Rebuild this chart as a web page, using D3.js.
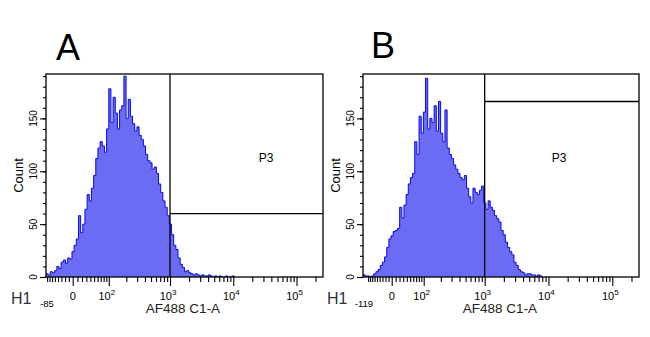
<!DOCTYPE html>
<html><head><meta charset="utf-8">
<script src="https://cdn.jsdelivr.net/npm/d3@7"></script>
<style>body{margin:0;background:#fff}svg{display:block;font-family:"Liberation Sans",Arial,Helvetica,sans-serif}</style>
</head><body><svg id="c" width="650" height="337"></svg>
<script>
// ---------- data ----------
const panelLabels = ["A", "B"];
const axisMins = [-85, -119];
const axisMax = 262144;
const majorTicks = [0, 100, 1000, 10000, 100000];
const majorBase = ["0", "10", "10", "10", "10"];
const majorExp = ["", "2", "3", "4", "5"];
const yMajorTicks = [0, 50, 100, 150];
const yMax = 192;
const gateLow = [1000, 1000];
const gateHeights = [60, 166];
const gateName = "P3";
const xTitle = "AF488 C1-A";
const yTitle = "Count";
const histName = "H1";
const binCount = 128;
// counts per display channel bin (bins evenly spaced across the display)
const countsA = [3,2,5,4,6,10,8,14,16,13,18,17,24,30,36,58,42,50,64,78,72,84,96,112,122,128,124,118,140,178,146,170,155,140,158,162,190,150,168,152,145,138,142,134,130,124,116,110,108,102,104,98,88,80,72,66,58,50,40,30,26,18,12,9,5,6,4,3,2,3,2,1,2,1,1,2,1,0,1,0,1,0,0,1,0,0,1];
const countsB = [2,1,1,0,1,3,5,7,11,14,19,28,36,39,43,44,46,66,56,68,78,88,94,98,128,116,152,136,156,188,140,150,146,162,138,166,136,128,158,122,116,112,106,102,98,94,92,96,84,76,70,84,80,78,82,86,70,64,72,66,63,58,55,52,44,40,33,28,24,21,14,11,7,5,4,2,3,3,2,2,1,2,1];
const allCounts = [countsA, countsB];

// ---------- layout ----------
const panels = [
  {L: 46, R: 323, T: 74, B: 277, b: 58, zf: 0.0964, letterX: 56, letterY: 60, hX: 11, countX: 18, p3X: 266},
  {L: 363, R: 639, T: 74, B: 277, b: 70, zf: 0.104, letterX: 371, letterY: 58, hX: 327, countX: 335, p3X: 559}
];
const svg = d3.select("#c");
const tf = (v, b) => Math.asinh(v / b);

panels.forEach((p, k) => {
  const g = svg.append("g");
  const min = axisMins[k];
  const x = d3.scaleLinear()
    .domain([tf(min, p.b), 0, tf(axisMax, p.b)])
    .range([p.L, p.L + p.zf * (p.R - p.L), p.R]);
  const xb = d3.scaleLinear().domain([0, binCount]).range([p.L, p.R]);
  const y = d3.scaleLinear().domain([0, yMax]).range([p.B, p.T]);

  // clip
  const cid = "clip" + k;
  svg.append("clipPath").attr("id", cid).append("rect")
    .attr("x", p.L).attr("y", p.T).attr("width", p.R - p.L).attr("height", p.B - p.T);

  // histogram
  const data = allCounts[k].concat([0]);
  const area = d3.area().curve(d3.curveStepAfter)
    .x((d, i) => xb(i)).y0(y(0)).y1(d => y(d));
  const line = d3.line().curve(d3.curveStepAfter)
    .x((d, i) => xb(i)).y(d => y(d));
  const hg = g.append("g").attr("clip-path", `url(#${cid})`);
  hg.append("path").datum(data).attr("d", area).attr("fill", "#6b6bf4");
  hg.append("path").datum(data).attr("d", line).attr("fill", "none")
    .attr("stroke", "#0a0ae6").attr("stroke-width", 1);

  // gate
  const gx = x(tf(gateLow[k], p.b));
  g.append("line").attr("x1", gx).attr("x2", gx).attr("y1", p.T).attr("y2", p.B)
    .attr("stroke", "#000").attr("stroke-width", 1.3);
  g.append("line").attr("x1", gx).attr("x2", p.R).attr("y1", y(gateHeights[k])).attr("y2", y(gateHeights[k]))
    .attr("stroke", "#000").attr("stroke-width", 1.3);
  g.append("text").attr("x", p.p3X).attr("y", 162)
    .attr("text-anchor", "middle").attr("font-size", 12).text(gateName);

  // frame
  g.append("rect").attr("x", p.L).attr("y", p.T).attr("width", p.R - p.L).attr("height", p.B - p.T)
    .attr("fill", "none").attr("stroke", "#000").attr("stroke-width", 1.3);

  // x minor ticks
  const minor = [];
  for (let m = 1; m <= 9; m++) { if (-10 * m >= min) minor.push(-10 * m); minor.push(10 * m); }
  [100, 1000, 10000, 100000].forEach(dec => {
    for (let m = 2; m <= 9; m++) if (dec * m <= axisMax) minor.push(dec * m);
  });
  const xaMinor = d3.axisBottom(x).tickValues(minor.map(v => tf(v, p.b))).tickSize(5).tickFormat("");
  const xaMajor = d3.axisBottom(x).tickValues(majorTicks.map(v => tf(v, p.b))).tickSize(9).tickFormat("");
  [xaMinor, xaMajor].forEach(ax => {
    const a = g.append("g").attr("transform", `translate(0,${p.B})`).call(ax);
    a.select(".domain").remove();
    a.selectAll("line").attr("stroke", "#000").attr("stroke-width", 1.1);
  });
  majorTicks.forEach((v, i) => {
    const t = g.append("text").attr("x", x(tf(v, p.b)) + (majorExp[i] ? -2 : 0)).attr("y", 300)
      .attr("text-anchor", "middle").attr("font-size", 11);
    t.append("tspan").text(majorBase[i]);
    if (majorExp[i]) t.append("tspan").attr("dy", -5).attr("font-size", 8).text(majorExp[i]);
  });
  g.append("text").attr("x", p.L + 1).attr("y", 307).attr("text-anchor", "middle")
    .attr("font-size", 9.5).text(String(min));

  // y ticks
  const yaMinor = d3.axisLeft(y).tickValues(d3.range(0, yMax, 10)).tickSize(3).tickFormat("");
  const yaMajor = d3.axisLeft(y).tickValues(yMajorTicks).tickSize(6).tickFormat("");
  [yaMinor, yaMajor].forEach(ax => {
    const a = g.append("g").attr("transform", `translate(${p.L},0)`).call(ax);
    a.select(".domain").remove();
    a.selectAll("line").attr("stroke", "#000").attr("stroke-width", 1.1);
  });
  yMajorTicks.forEach(v => {
    g.append("text").attr("transform", `translate(${p.L - 13},${y(v)}) rotate(-90)`)
      .attr("text-anchor", "middle").attr("dy", "0.35em").attr("font-size", 10).text(v);
  });

  // titles
  g.append("text").attr("transform", `translate(${p.countX},${(p.T + p.B) / 2}) rotate(-90)`)
    .attr("text-anchor", "middle").attr("dy", "0.35em").attr("font-size", 13).text(yTitle);
  g.append("text").attr("x", p.L + 137).attr("y", 313).attr("text-anchor", "middle")
    .attr("font-size", 13.5).attr("fill", "#222").text(xTitle);
  g.append("text").attr("x", p.hX).attr("y", 304).attr("font-size", 16)
    .attr("fill", "#303040").text(histName);
  g.append("text").attr("x", p.letterX).attr("y", p.letterY).attr("font-size", 36)
    .attr("fill", "#000").text(panelLabels[k]);
});
</script>
</body></html>
